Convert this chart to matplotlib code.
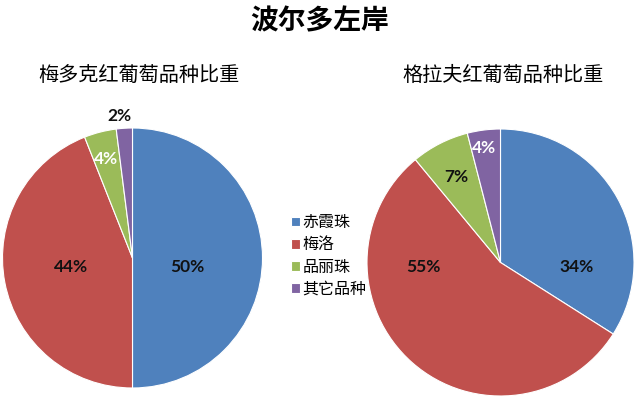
import matplotlib.pyplot as plt

plt.rcParams['font.family'] = ['Noto Sans CJK SC', 'DejaVu Sans']

# 数据
grapes = ["赤霞珠", "梅洛", "品丽珠", "其它品种"]
medoc = [50, 44, 4, 2]
graves = [34, 55, 7, 4]

colors = ["#4F81BD", "#C0504D", "#9BBB59", "#8064A2"]
lbl_colors = ["#111111", "#111111", "white", "#111111"]
lbl_colors_r = ["#111111", "#111111", "#111111", "white"]

# 标签位置 (以半径为单位)
pos_left = [(0.42, -0.07), (-0.47, -0.07), (-0.20, 0.76), (-0.10, 1.09)]
pos_right = [(0.57, -0.03), (-0.58, -0.03), (-0.33, 0.64), (-0.12, 0.86)]

W, H = 640, 399
fig = plt.figure(figsize=(6.4, 3.99), dpi=100)


def pie_axes(cx, cy, r):
    return fig.add_axes([(cx - r) / W, (H - cy - r) / H, 2 * r / W, 2 * r / H])


def draw_pie(ax, values, pos, tcolors):
    wedges, _ = ax.pie(values, colors=colors, startangle=90, counterclock=False,
                       radius=1, wedgeprops=dict(edgecolor="white", linewidth=0.8))
    for v, (x, y), c in zip(values, pos, tcolors):
        ax.text(x, y, f"{v}%", ha="center", va="center", fontsize=12.5,
                fontweight="bold", color=c, family=["Lato", "DejaVu Sans"])
    ax.set_xlim(-1, 1)
    ax.set_ylim(-1, 1)
    ax.set_aspect("auto")
    ax.axis("off")
    return wedges


ax1 = pie_axes(132.5, 258, 130)
w1 = draw_pie(ax1, medoc, pos_left, lbl_colors)
ax2 = pie_axes(500.5, 262.5, 133.5)
draw_pie(ax2, graves, pos_right, lbl_colors_r)

fig.text(320 / W, 1 - 21 / H, "波尔多左岸", ha="center", va="center",
         fontsize=20, fontweight="bold")
fig.text(139 / W, 1 - 75 / H, "梅多克红葡萄品种比重", ha="center", va="center",
         fontsize=14.5, fontweight="medium")
fig.text(503 / W, 1 - 75 / H, "格拉夫红葡萄品种比重", ha="center", va="center",
         fontsize=14.5, fontweight="medium")

fig.legend(w1, grapes, loc="center left", bbox_to_anchor=(283 / W, 1 - 256 / H),
           frameon=False, fontsize=11.5, handlelength=0.55, handleheight=0.55,
           handletextpad=0.15, labelspacing=0.32, borderpad=0)

fig.savefig("out.png", dpi=100, facecolor="white")
